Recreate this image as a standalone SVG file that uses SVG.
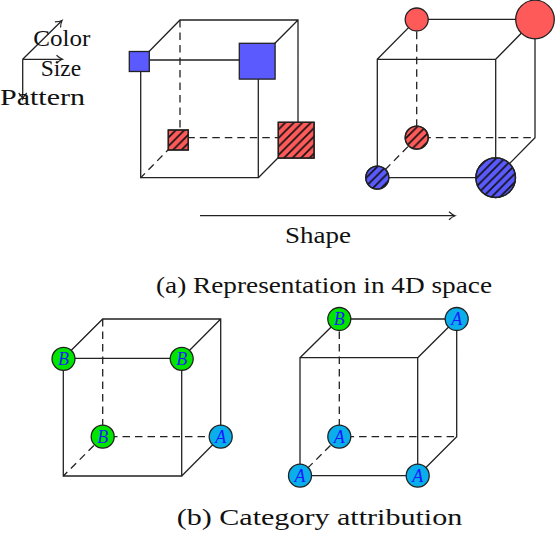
<svg xmlns="http://www.w3.org/2000/svg" width="556" height="534" viewBox="0 0 556 534">
<style>
.e{stroke:#222;stroke-width:1.3;fill:none}
.d{stroke:#222;stroke-width:1.3;fill:none;stroke-dasharray:7.5 5}
.t{font-family:"Liberation Serif","Times New Roman",serif;font-size:24px;fill:#111}
.sq{stroke:#222;stroke-width:1.3}
.blue{fill:#5a5aff}
.red{fill:#ff5a5a}
.g{fill:#00e600;stroke:#222;stroke-width:1.3}
.c{fill:#0aaeea;stroke:#222;stroke-width:1.3}
.l{font-family:"Liberation Serif","Times New Roman",serif;font-style:italic;font-size:18px;fill:#1a1aff;text-anchor:middle}
</style>
<defs>
<marker id="arr" viewBox="-8 -5 10 10" refX="0" refY="0" markerWidth="10" markerHeight="10" markerUnits="userSpaceOnUse" orient="auto">
<path d="M-6,-4 Q-2.5,-0.8 0,0 Q-2.5,0.8 -6,4" fill="none" stroke="#222" stroke-width="1.2"/>
</marker>
<pattern id="hatch" patternUnits="userSpaceOnUse" width="8.5" height="8.5">
<path d="M-1,1 L1,-1 M0,8.5 L8.5,0 M7.5,9.5 L9.5,7.5" stroke="#111" stroke-width="1.7"/>
</pattern>
</defs>

<g id="legend">
<line class="e" x1="22.7" y1="59.3" x2="62" y2="20.5" marker-end="url(#arr)"/>
<line class="e" x1="22.7" y1="59.3" x2="62.5" y2="59.3" marker-end="url(#arr)"/>
<line class="e" x1="22.7" y1="59.3" x2="22.7" y2="99" marker-end="url(#arr)"/>
<text class="t" x="33.3" y="46" textLength="57" lengthAdjust="spacingAndGlyphs">Color</text>
<text class="t" x="40.7" y="75.7" textLength="40.5" lengthAdjust="spacingAndGlyphs">Size</text>
<text class="t" x="0" y="105" textLength="85" lengthAdjust="spacingAndGlyphs">Pattern</text>
</g>

<g id="connectors">
<path class="e" d="M140.7,60 H258.3 V177.7 H140.7 Z M140.7,60 L180,20 H298 V137.7 L258.3,177.7 M258.3,60 L298,20"/>
<path class="d" d="M180,20 V137.7 H298 M180,137.7 L140.7,177.7"/>
<path class="e" d="M377.3,59.3 H495.7 V177.7 H377.3 Z M377.3,59.3 L416.7,19.3 H535 V137.7 L495.7,177.7 M495.7,59.3 L535,19.3"/>
<path class="d" d="M416.7,19.3 V137.7 H535 M416.7,137.7 L377.3,177.7"/>
<line class="e" x1="200" y1="215.7" x2="455" y2="215.7" marker-end="url(#arr)"/>
<path class="e" d="M63.3,358.3 H181.7 V476 H63.3 Z M63.3,358.3 L102.7,319 H220.7 V436.7 L181.7,476 M181.7,358.3 L220.7,319"/>
<path class="d" d="M102.7,319 V436.7 H220.7 M102.7,436.7 L63.3,476"/>
<path class="e" d="M300,357.7 H417.7 V475.7 H300 Z M300,357.7 L339.3,319 H456.7 V436.7 L417.7,475.7 M417.7,357.7 L456.7,319"/>
<path class="d" d="M339.3,319 V436.7 H456.7 M339.3,436.7 L300,475.7"/>
</g>

<g id="sq-small-blue"><rect class="sq blue" x="129.3" y="51.5" width="20" height="20"/></g>
<g id="sq-large-blue"><rect class="sq blue" x="239.3" y="43.3" width="35.8" height="35.8"/></g>
<g id="sq-small-red"><rect class="sq red" x="168.3" y="130" width="20" height="20"/><rect x="168.3" y="130" width="20" height="20" fill="url(#hatch)" stroke="#222" stroke-width="1.3"/></g>
<g id="sq-large-red"><rect class="sq red" x="278.3" y="122.3" width="35.8" height="35.8"/><rect x="278.3" y="122.3" width="35.8" height="35.8" fill="url(#hatch)" stroke="#222" stroke-width="1.3"/></g>

<g id="ci-small-red-top"><circle class="sq red" cx="416.7" cy="19.5" r="11.5"/></g>
<g id="ci-large-red-top"><circle class="sq red" cx="535" cy="19.5" r="19.3"/></g>
<g id="ci-small-red-hatch"><circle class="sq red" cx="416.7" cy="137.7" r="11.5"/><circle cx="416.7" cy="137.7" r="11.5" fill="url(#hatch)" stroke="#222" stroke-width="1.3"/></g>
<g id="ci-small-blue-hatch"><circle class="sq blue" cx="377.3" cy="177.7" r="11.5"/><circle cx="377.3" cy="177.7" r="11.5" fill="url(#hatch)" stroke="#222" stroke-width="1.3"/></g>
<g id="ci-large-blue-hatch"><circle class="sq blue" cx="495.7" cy="177.7" r="19.8"/><circle cx="495.7" cy="177.7" r="19.8" fill="url(#hatch)" stroke="#222" stroke-width="1.3"/></g>

<text class="t" x="285" y="243.3" textLength="66" lengthAdjust="spacingAndGlyphs">Shape</text>
<text class="t" x="156" y="292.5" textLength="336" lengthAdjust="spacingAndGlyphs">(a) Representation in 4D space</text>

<g id="n3-ftl"><circle class="g" cx="63.5" cy="358.8" r="11.5"/><text class="l" x="63.5" y="365">B</text></g>
<g id="n3-ftr"><circle class="g" cx="181.7" cy="358.8" r="11.5"/><text class="l" x="181.7" y="365">B</text></g>
<g id="n3-bbl"><circle class="g" cx="102.7" cy="436.7" r="11.5"/><text class="l" x="102.7" y="442.9">B</text></g>
<g id="n3-bbr"><circle class="c" cx="220.7" cy="436.7" r="11.5"/><text class="l" x="220.7" y="442.9">A</text></g>

<g id="n4-btl"><circle class="g" cx="339.3" cy="319" r="11.5"/><text class="l" x="339.3" y="325.2">B</text></g>
<g id="n4-btr"><circle class="c" cx="456.7" cy="319" r="11.5"/><text class="l" x="456.7" y="325.2">A</text></g>
<g id="n4-bbl"><circle class="c" cx="339.3" cy="436.7" r="11.5"/><text class="l" x="339.3" y="442.9">A</text></g>
<g id="n4-fbl"><circle class="c" cx="300" cy="475.7" r="11.5"/><text class="l" x="300" y="481.9">A</text></g>
<g id="n4-fbr"><circle class="c" cx="417.7" cy="475.7" r="11.5"/><text class="l" x="417.7" y="481.9">A</text></g>

<text class="t" x="176.7" y="525" textLength="285.6" lengthAdjust="spacingAndGlyphs">(b) Category attribution</text>
</svg>
